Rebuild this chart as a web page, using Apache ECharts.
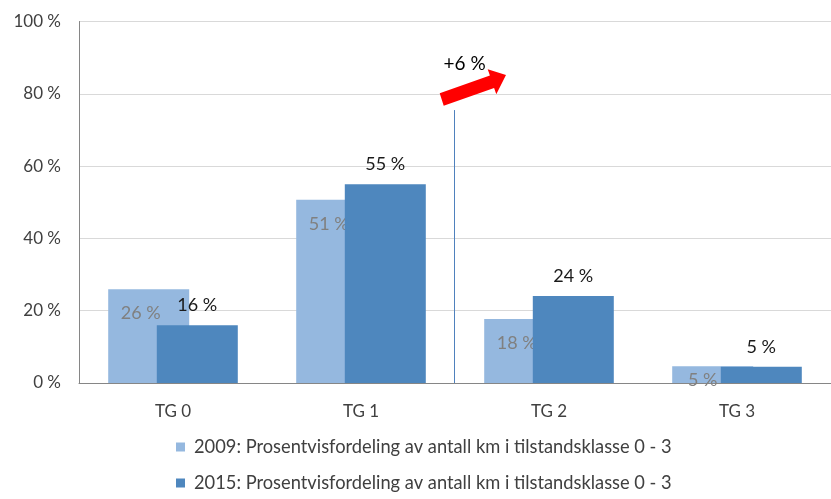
<!DOCTYPE html>
<html>
<head>
<meta charset="utf-8">
<script src="https://cdn.jsdelivr.net/npm/echarts@6/dist/echarts.min.js"></script>
<style>
  html, body { margin: 0; padding: 0; background: #fff; }
  #chart { width: 831px; height: 499px; }
</style>
</head>
<body>
<div id="chart"></div>
<script>
// data
const categories = ["TG 0", "TG 1", "TG 2", "TG 3"];
const share2009 = [25.9, 50.7, 17.7, 4.6];
const share2015 = [16.0, 55.0, 24.1, 4.5];
const yTicks = { min: 0, max: 100, interval: 20 };
const name2009 = "2009: Prosentvisfordeling av antall km i tilstandsklasse 0 - 3";
const name2015 = "2015: Prosentvisfordeling av antall km i tilstandsklasse 0 - 3";
const changeNote = "+6 %";

const FONT = "Lato";
const chart = echarts.init(document.getElementById("chart"), null, { renderer: "canvas" });

const pct = (p) => `${Math.round(p.value)} %`;

chart.setOption({
  animation: false,
  textStyle: { fontFamily: FONT },
  grid: { left: 79, right: -7, top: 21.5, bottom: 116, containLabel: false },
  legend: {
    orient: "vertical",
    left: 176,
    top: 437,
    padding: 0,
    height: 70,
    itemWidth: 9,
    itemHeight: 9,
    itemGap: 16,
    icon: "rect",
    textStyle: {
      fontFamily: FONT,
      fontSize: 18.3,
      lineHeight: 20,
      color: "#404040",
      padding: [0, 0, 0, 4],
    },
    data: [name2009, name2015],
  },
  xAxis: {
    type: "category",
    data: categories,
    axisLine: { lineStyle: { color: "#868686" } },
    axisTick: { show: false },
    axisLabel: { fontFamily: FONT, fontSize: 17, color: "#404040", margin: 20 },
  },
  yAxis: {
    type: "value",
    ...yTicks,
    axisLine: { show: true, lineStyle: { color: "#868686" } },
    axisTick: { show: false },
    splitLine: { lineStyle: { color: "#d9d9d9" } },
    axisLabel: {
      fontFamily: FONT,
      fontSize: 17,
      color: "#404040",
      margin: 18,
      formatter: "{value} %",
    },
  },
  series: [
    {
      name: name2009,
      type: "bar",
      data: share2009.map((v, i) =>
        i === 3 ? { value: v, label: { distance: 5, offset: [-10, 0] } } : v
      ),
      barWidth: 81,
      barGap: "-40%",
      z: 2,
      itemStyle: { color: "#95B8DF" },
      label: {
        show: true,
        position: "insideTop",
        distance: 15,
        offset: [-8, 0],
        fontFamily: FONT,
        fontSize: 18,
        color: "#808080",
        formatter: pct,
      },
    },
    {
      name: name2015,
      type: "bar",
      data: share2015,
      barWidth: 81,
      z: 3,
      itemStyle: { color: "#4E87BE" },
      label: {
        show: true,
        position: "top",
        distance: 11,
        fontFamily: FONT,
        fontSize: 18,
        color: "#1a1a1a",
        formatter: pct,
      },
    },
  ],
});

// annotation: divider between TG 1 and TG 2 with the red arrow
function drawNote() {
  const x1 = chart.convertToPixel({ xAxisIndex: 0 }, categories[1]);
  const x2 = chart.convertToPixel({ xAxisIndex: 0 }, categories[2]);
  const sx = Math.round((x1 + x2) / 2) - 0.5;
  const y0 = chart.convertToPixel({ yAxisIndex: 0 }, 0);
  const yTop = chart.convertToPixel({ yAxisIndex: 0 }, 75.5);
  const ax = sx - 14.5;
  const arrow = [
    [-0.3, 93.3], [49.9, 75.5], [47.7, 69.3], [66, 75],
    [56.3, 94.3], [54.1, 87.9], [3.7, 105.7],
  ].map(([dx, y]) => [ax + dx, y]);
  chart.setOption({
    graphic: [
      {
        type: "line",
        shape: { x1: sx, y1: yTop, x2: sx, y2: y0 },
        style: { stroke: "#4f81bd", lineWidth: 1 },
        z: 10,
      },
      {
        type: "polygon",
        shape: { points: arrow },
        style: { fill: "#ff0000" },
        z: 10,
      },
      {
        type: "text",
        x: ax + 3.5,
        y: 63.5,
        style: {
          text: changeNote,
          fontFamily: FONT,
          fontSize: 19,
          fill: "#000",
          verticalAlign: "middle",
        },
        z: 11,
      },
    ],
  });
}
drawNote();
</script>
</body>
</html>
